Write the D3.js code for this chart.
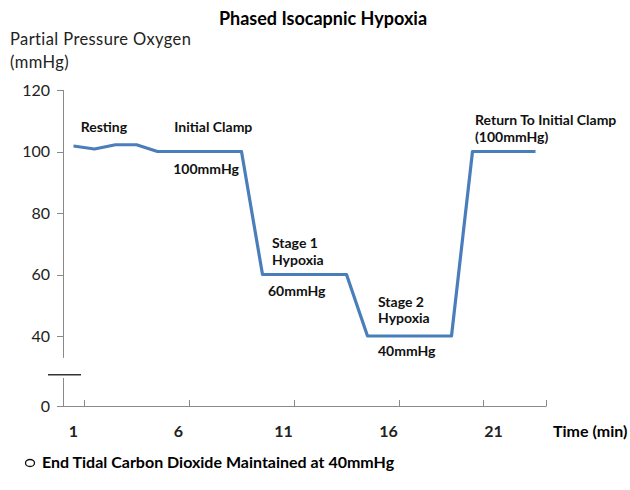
<!DOCTYPE html>
<html>
<head>
<meta charset="utf-8">
<script src="https://cdn.jsdelivr.net/npm/d3@7"></script>
<style>
  body { margin: 0; background: #fff; }
  svg { font-family: Lato, "Open Sans", sans-serif; }
</style>
</head>
<body>
<svg width="630" height="490"></svg>
<script>
// minutes 1..23 and the measured oxygen pressure
var minutes = d3.range(1, 24);
var pressure = [101.8, 100.8, 102.2, 102.2, 100, 100, 100, 100, 100,
                60, 60, 60, 60, 60, 40, 40, 40, 40, 40, 100, 100, 100, 100];
var yTicks = [0, 40, 60, 80, 100, 120];
var xLabels = [1, 6, 11, 16, 21];
var xTickMarks = [1.5, 6.5, 11.5, 16.5, 20.5, 23.5];

// phase labels, placed in data units (minute, mmHg)
var notes = [
  {t: "Resting", x: 2.45, y: 106.3, anchor: "middle"},
  {t: "Initial Clamp", x: 5.8, y: 106.3},
  {t: "100mmHg", x: 5.75, y: 92.7},
  {t: "Stage 1", x: 10.45, y: 68.6},
  {t: "Hypoxia", x: 10.45, y: 63.1},
  {t: "60mmHg", x: 10.26, y: 53},
  {t: "Stage 2", x: 15.5, y: 49.4},
  {t: "Hypoxia", x: 15.5, y: 44.2},
  {t: "40mmHg", x: 15.5, y: 28.6},
  {t: "Return To Initial Clamp", x: 20.12, y: 108.6},
  {t: "(100mmHg)", x: 20.12, y: 103.1}
];

var svg = d3.select("svg");

var x = d3.scaleLinear().domain([0.5, 23.5]).range([63, 546]);
// broken axis: 0..40 squeezed
var y = d3.scaleLinear().domain([0, 40, 120]).range([406, 336, 90]);

var axisColor = "#8a8a8a";

// y axis line with a break
var g = svg.append("g");
g.append("line").attr("x1", 63.5).attr("x2", 63.5)
  .attr("y1", y(120)).attr("y2", y(27.5))
  .attr("stroke", axisColor);
g.append("line").attr("x1", 63.5).attr("x2", 63.5)
  .attr("y1", y(16)).attr("y2", y(0))
  .attr("stroke", axisColor);
g.append("line").attr("x1", 48).attr("x2", 81)
  .attr("y1", y(17.8)).attr("y2", y(17.8))
  .attr("stroke", "#333").attr("stroke-width", 1.5);

g.selectAll(".ytick").data(yTicks).enter().append("line")
  .attr("x1", 57).attr("x2", 63.5)
  .attr("y1", function(d) { return Math.round(y(d)) + 0.5; })
  .attr("y2", function(d) { return Math.round(y(d)) + 0.5; })
  .attr("stroke", axisColor);

g.selectAll(".ylab").data(yTicks).enter().append("text")
  .attr("x", 50)
  .attr("y", function(d) { return y(d); })
  .attr("dy", "0.36em")
  .attr("text-anchor", "end")
  .attr("font-size", 16)
  .attr("fill", "#222")
  .text(function(d) { return d; });

// x axis
g.append("line").attr("x1", 57).attr("x2", x(23.5))
  .attr("y1", 406.5).attr("y2", 406.5)
  .attr("stroke", axisColor);
g.selectAll(".xtick").data(xTickMarks).enter().append("line")
  .attr("x1", function(d) { return Math.round(x(d)) + 0.5; })
  .attr("x2", function(d) { return Math.round(x(d)) + 0.5; })
  .attr("y1", 400).attr("y2", 406.5)
  .attr("stroke", axisColor);
g.selectAll(".xlab").data(xLabels).enter().append("text")
  .attr("x", function(d) { return x(d); })
  .attr("y", 437)
  .attr("text-anchor", "middle")
  .attr("font-size", 16)
  .attr("font-weight", "bold")
  .attr("fill", "#222")
  .text(function(d) { return d; });

svg.append("text").attr("x", 553).attr("y", 437)
  .attr("font-size", 16).attr("font-weight", "bold")
  .text("Time (min)");

// the line
var line = d3.line()
  .x(function(d, i) { return x(minutes[i]); })
  .y(function(d) { return y(d); });

svg.append("path")
  .datum(pressure)
  .attr("d", line)
  .attr("fill", "none")
  .attr("stroke", "#4a7ebb")
  .attr("stroke-width", 3.2)
  .attr("stroke-linejoin", "round");

// phase notes
svg.selectAll(".note").data(notes).enter().append("text")
  .attr("x", function(d) { return x(d.x); })
  .attr("y", function(d) { return y(d.y); })
  .attr("text-anchor", function(d) { return d.anchor || "start"; })
  .attr("font-size", 14)
  .attr("font-weight", "bold")
  .attr("fill", "#111")
  .text(function(d) { return d.t; });

// title and y label
svg.append("text").attr("x", 323).attr("y", 25)
  .attr("text-anchor", "middle")
  .attr("font-size", 18).attr("font-weight", "bold")
  .text("Phased Isocapnic Hypoxia");
svg.append("text").attr("x", 10).attr("y", 45)
  .attr("font-size", 16.5).attr("letter-spacing", 0.4).attr("fill", "#222")
  .text("Partial Pressure Oxygen");
svg.append("text").attr("x", 10).attr("y", 68)
  .attr("font-size", 16.5).attr("letter-spacing", 0.4).attr("fill", "#222")
  .text("(mmHg)");

// footnote
svg.append("ellipse").attr("cx", 30).attr("cy", 463)
  .attr("rx", 4.5).attr("ry", 3.5)
  .attr("fill", "none").attr("stroke", "#111").attr("stroke-width", 1.3);
svg.append("text").attr("x", 42).attr("y", 468)
  .attr("font-size", 16).attr("font-weight", "bold")
  .text("End Tidal Carbon Dioxide Maintained at 40mmHg");
</script>
</body>
</html>
